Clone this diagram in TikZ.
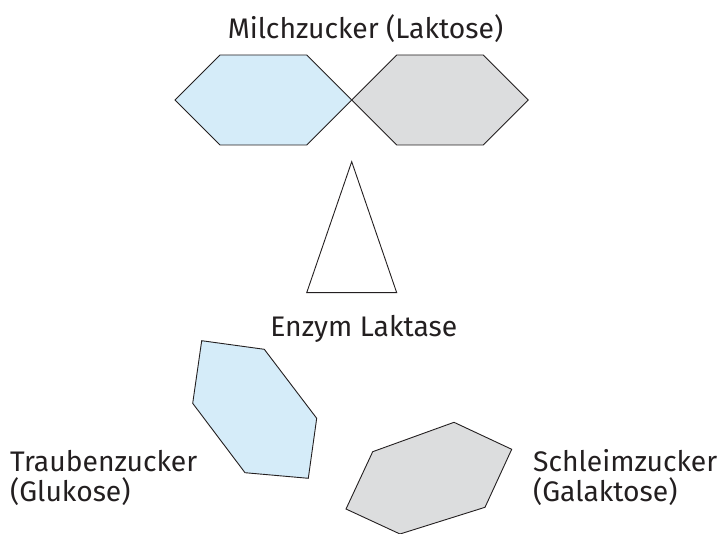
\documentclass[tikz,border=0pt]{standalone}
\usepackage{fontspec}
\setmainfont{Fira Sans}
\definecolor{ink}{HTML}{231F20}
\definecolor{lblue}{HTML}{D5ECF9}
\definecolor{lgray}{HTML}{DCDDDE}
\begin{document}
\begin{tikzpicture}[x=1pt,y=-1pt,
  polyline/.style={draw=ink,line width=0.9pt,line join=miter},
  lbl/.style={inner sep=0pt,text=ink,font=\fontsize{28.3}{30}\selectfont}]
\useasboundingbox (0,0) rectangle (722,534);
% Laktose
\coordinate (m) at (351.7,100);
\filldraw[polyline,fill=lblue] (175,100) -- (220,55) -- (306.7,55) -- (m) -- (306.7,145) -- (220,145) -- cycle;
\filldraw[polyline,fill=lgray] (m) -- (396.7,55) -- (483.3,55) -- (528.3,100) -- (483.3,145) -- (396.7,145) -- cycle;
% Enzym
\draw[polyline] (351.7,161.7) -- (396.7,292.7) -- (306.7,292.7) -- cycle;
% Glukose
\filldraw[polyline,fill=lblue] (201.7,340.7) -- (264.3,349.3) -- (316.7,418.3) -- (308.3,478.3) -- (245,472.7) -- (192.7,403.3) -- cycle;
% Galaktose
\filldraw[polyline,fill=lgray] (372.7,451.7) -- (454,422.3) -- (511.7,449.3) -- (485,507.3) -- (400,534) -- (346,509) -- cycle;
% labels
\node[lbl,anchor=base] (t1) at (365.5,38.3) {Milchzucker (Laktose)};
\node[lbl,anchor=base] (t2) at (363.8,336.7) {Enzym Laktase};
\node[lbl,anchor=base west,align=left] (t3) at (10,501.7) {Traubenzucker\\(Glukose)};
\node[lbl,anchor=base west,align=left] (t4) at (533,501.7) {Schleimzucker\\(Galaktose)};
\end{tikzpicture}
\end{document}
